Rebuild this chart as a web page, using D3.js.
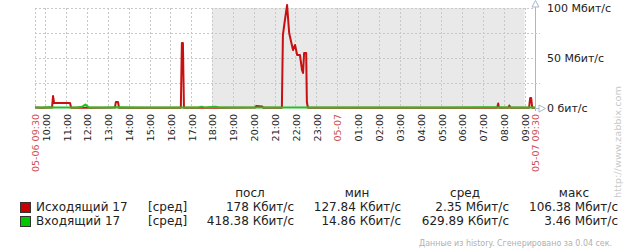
<!DOCTYPE html>
<html lang="ru">
<head>
<meta charset="UTF-8">
<title>Трафик 17</title>
<script src="https://d3js.org/d3.v7.min.js"></script>
<style>
  body { margin: 0; background: white; }
  svg { display: block; font-family: "DejaVu Sans", sans-serif; }
</style>
</head>
<body>
<svg id="chart" width="636" height="251"></svg>
<script>
// minutes since 05-06 09:30, values in Mbit/s
const outTimes = [0, 20, 43, 49, 52, 55, 101, 104, 160, 230, 233, 239, 242, 330, 420, 423, 426, 429, 540,
  634, 637, 654, 657, 711, 714, 719, 726, 732, 743, 749, 755, 763, 769, 772, 775, 781, 783, 786,
  1000, 1200, 1331, 1334, 1336, 1364, 1366, 1369, 1423, 1426, 1429, 1432, 1440];
const outValues = [0.4, 0.3, 0.4, 0.4, 12, 5, 5, 0.3, 0.3, 0.4, 6, 6, 0.3, 0.3, 0.3, 65, 65, 0.3, 0.3,
  0.4, 2, 1.6, 0.3, 0.3, 73, 86, 103, 75, 58, 63, 53, 53, 38, 35, 55, 55, 6, 0.3,
  0.3, 0.3, 0.3, 4.5, 0.3, 0.3, 2.5, 0.3, 0.3, 10, 10, 0.3, 0.3];

const inTimes = [0, 20, 40, 60, 100, 120, 135, 145, 155, 170, 200, 240, 300, 360, 430, 470, 480, 490,
  520, 530, 600, 660, 720, 800, 900, 1000, 1100, 1200, 1300, 1380, 1440];
const inValues = [0.6, 0.4, 0.8, 0.5, 0.5, 0.4, 1.2, 3.4, 0.6, 0.4, 0.5, 0.7, 0.5, 0.6, 0.5, 0.5, 1.4, 0.4,
  1.2, 0.5, 0.6, 0.5, 0.4, 0.5, 0.6, 0.5, 0.5, 0.6, 0.7, 0.6, 0.5];

const hourLabels = ["10:00", "11:00", "12:00", "13:00", "14:00", "15:00", "16:00", "17:00", "18:00",
  "19:00", "20:00", "21:00", "22:00", "23:00", "05-07", "01:00", "02:00", "03:00", "04:00", "05:00",
  "06:00", "07:00", "08:00", "09:00"];
const yTicks = [0, 50, 100];
const yTickLabels = ["0 бит/с", "50 Мбит/с", "100 Мбит/с"];

const legendNames = ["Исходящий 17", "Входящий 17"];
const legendColors = ["#c80000", "#00c800"];
const statHeads = ["посл", "мин", "сред", "макс"];
const statOut = ["178 Кбит/с", "127.84 Кбит/с", "2.35 Мбит/с", "106.38 Мбит/с"];
const statIn = ["418.38 Кбит/с", "14.86 Кбит/с", "629.89 Кбит/с", "3.46 Мбит/с"];

const svg = d3.select("#chart");
const x = d3.scaleLinear().domain([0, 1440]).range([35, 535]);
const y = d3.scaleLinear().domain([0, 100]).range([108, 8]);

// non-working time shading 18:00 .. 09:00
svg.append("rect")
  .attr("x", x(510)).attr("y", y(100))
  .attr("width", x(1410) - x(510)).attr("height", y(0) - y(100))
  .attr("fill", "#e9e9e9");

// grid
const gridColor = "#c8c8c8";
svg.selectAll("line.hg").data([25, 50, 75, 100]).enter().append("line")
  .attr("x1", x(0)).attr("x2", x(1440))
  .attr("y1", d => y(d) + 0.5).attr("y2", d => y(d) + 0.5)
  .attr("stroke", gridColor).attr("stroke-dasharray", "2,2");
const gridMinutes = [0].concat(hourLabels.map((d, i) => 30 + i * 60));
svg.selectAll("line.vg").data(gridMinutes).enter().append("line")
  .attr("x1", d => Math.round(x(d)) + 0.5).attr("x2", d => Math.round(x(d)) + 0.5)
  .attr("y1", y(100)).attr("y2", y(0))
  .attr("stroke", gridColor).attr("stroke-dasharray", "2,2");

// series
const line = d3.line().x(d => x(d[0])).y(d => y(d[1]));
svg.append("path")
  .datum(outTimes.map((t, i) => [t, outValues[i]]))
  .attr("d", line).attr("fill", "none")
  .attr("stroke", "#c81010").attr("stroke-width", 2).attr("stroke-linejoin", "round");
svg.append("path")
  .datum(inTimes.map((t, i) => [t, inValues[i]]))
  .attr("d", line).attr("fill", "none")
  .attr("stroke", "#22c022").attr("stroke-width", 2).attr("stroke-linejoin", "round");

// axes
const axisColor = "#a8b8cc";
svg.append("line").attr("x1", 535.5).attr("x2", 535.5).attr("y1", 2).attr("y2", 111)
  .attr("stroke", axisColor);
svg.append("path").attr("d", "M532,7 L535.5,0.5 L539,7 Z").attr("fill", "white").attr("stroke", axisColor);
svg.append("line").attr("x1", 535).attr("x2", 540).attr("y1", 108.5).attr("y2", 108.5)
  .attr("stroke", axisColor);
svg.append("path").attr("d", "M539,105 L545.5,108.5 L539,112 Z").attr("fill", "white").attr("stroke", axisColor);
svg.selectAll("line.yt").data([25, 75]).enter().append("line")
  .attr("x1", 535).attr("x2", 540).attr("y1", d => y(d) + 0.5).attr("y2", d => y(d) + 0.5)
  .attr("stroke", gridColor).attr("stroke-dasharray", "2,2");

svg.selectAll("text.yl").data(yTicks).enter().append("text")
  .attr("x", 547).attr("y", d => y(d)).attr("dy", "0.35em")
  .attr("font-size", "11px").attr("fill", "#222")
  .text((d, i) => yTickLabels[i]);

// x labels
function xLabel(minute, label, color) {
  svg.append("text")
    .attr("transform", `translate(${x(minute) + 1},114) rotate(-90)`)
    .attr("text-anchor", "end").attr("dy", "0.35em")
    .attr("font-size", "9.5px").attr("fill", color)
    .text(label);
}
hourLabels.forEach((h, i) => xLabel(30 + i * 60, h, h === "05-07" ? "#d05050" : "#222"));
xLabel(0, "05-06 09:30", "#d05050");
xLabel(1440, "05-07 09:30", "#d05050");

// legend
const colRight = [294, 401, 509, 618];
svg.selectAll("text.sh").data(statHeads).enter().append("text")
  .attr("x", (d, i) => colRight[i] - 44).attr("y", 197)
  .attr("text-anchor", "middle").attr("font-size", "12px").attr("fill", "#222")
  .text(d => d);

[statOut, statIn].forEach((stats, r) => {
  const by = 211 + r * 14;
  svg.append("rect").attr("x", 20.5).attr("y", by - 8.5).attr("width", 10).attr("height", 10)
    .attr("fill", legendColors[r]).attr("stroke", "#333");
  svg.append("text").attr("x", 36).attr("y", by).attr("font-size", "12px").attr("fill", "#222")
    .text(legendNames[r]);
  svg.append("text").attr("x", 148).attr("y", by).attr("font-size", "12px").attr("fill", "#222")
    .text("[сред]");
  stats.forEach((s, i) => {
    svg.append("text").attr("x", colRight[i]).attr("y", by)
      .attr("text-anchor", "end").attr("font-size", "12px").attr("fill", "#222")
      .text(s);
  });
});

// footer and watermark
svg.append("text").attr("x", 612).attr("y", 246).attr("text-anchor", "end")
  .attr("font-size", "8.5px").attr("fill", "#b0b0b0")
  .attr("textLength", 193).attr("lengthAdjust", "spacingAndGlyphs")
  .text("Данные из history. Сгенерировано за 0.04 сек.");
svg.append("text")
  .attr("transform", "translate(618,198) rotate(-90)")
  .attr("dy", "0.35em").attr("font-size", "9px").attr("fill", "#c8c8c8")
  .attr("textLength", 112).attr("lengthAdjust", "spacingAndGlyphs")
  .text("http://www.zabbix.com");
</script>
</body>
</html>
